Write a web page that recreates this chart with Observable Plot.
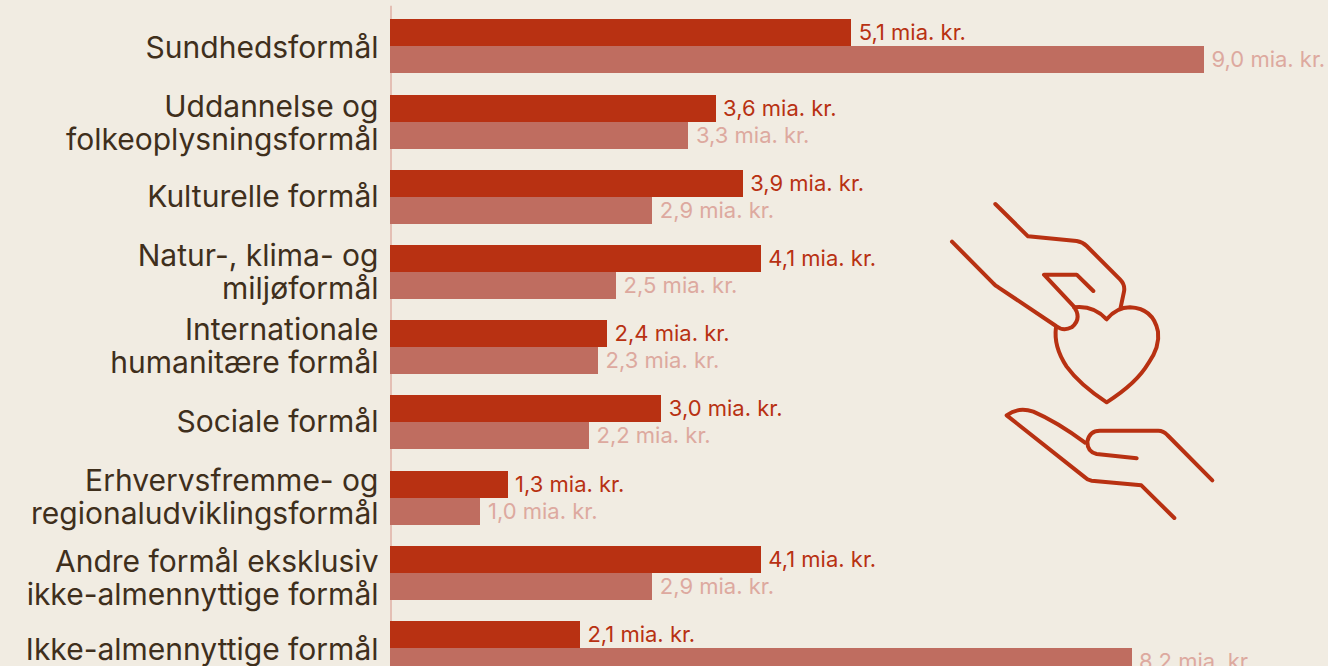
<!DOCTYPE html>
<html lang="da">
<head>
<meta charset="utf-8">
<script src="https://cdn.jsdelivr.net/npm/d3@7"></script>
<script src="https://cdn.jsdelivr.net/npm/@observablehq/plot@0.6"></script>
<style>
html,body{margin:0;padding:0;background:#f1ece2;overflow:hidden}
#wrap{position:relative;width:1328px;height:666px}
#wrap>svg#chartSvg{position:absolute;left:0;top:0}
#wrap>svg#icon{position:absolute;left:930px;top:190px;width:300px;height:340px}
</style>
</head>
<body>
<div id="wrap"></div>
<script>
const categories = [
  "Sundhedsformål",
  "Uddannelse og\nfolkeoplysningsformål",
  "Kulturelle formål",
  "Natur-, klima- og\nmiljøformål",
  "Internationale\nhumanitære formål",
  "Sociale formål",
  "Erhvervsfremme- og\nregionaludviklingsformål",
  "Andre formål eksklusiv\nikke-almennyttige formål",
  "Ikke-almennyttige formål"
];
const seriesA = [5.1, 3.6, 3.9, 4.1, 2.4, 3.0, 1.3, 4.1, 2.1];
const seriesB = [9.0, 3.3, 2.9, 2.5, 2.3, 2.2, 1.0, 2.9, 8.2];
const seriesNames = ["A", "B"];
const barColors = ["#b83112", "#bf6d60"];
const labelColors = ["#b83112", "#dda99f"];
const labelShifts = [0.5, 0.5, -0.5, -1, -2, -1.5, -1.5, 4.5, 1];

const rows = categories.flatMap((category, i) => [
  {category, series: seriesNames[0], value: seriesA[i]},
  {category, series: seriesNames[1], value: seriesB[i]}
]);
const fmt = d => d.value.toFixed(1).replace(".", ",") + " mia. kr.";
const font = "Inter, 'Open Sans', sans-serif";

const chart = Plot.plot({
  width: 1328,
  height: 666,
  marginLeft: 390,
  marginRight: 33.6,
  style: {background: "transparent", fontFamily: font, overflow: "hidden"},
  x: {domain: [0, 10], axis: null},
  fy: {domain: categories, range: [8.8, 685.6], padding: 0, round: false, label: null, axis: null},
  y: {domain: seriesNames, paddingInner: 0, paddingOuter: 0.3926, round: false, axis: null},
  color: {domain: seriesNames, range: barColors},
  marks: [
    Plot.ruleX([0], {stroke: "#e4bfb4", strokeWidth: 2, dx: 0.5, insetTop: -3}),
    Plot.barX(rows, {x: "value", y: "series", fy: "category", fill: "series", shapeRendering: "crispEdges"}),
    Plot.text(rows, {
      x: "value", y: "series", fy: "category", text: fmt,
      textAnchor: "start", dx: 7, fontSize: 22,
      fill: d => labelColors[seriesNames.indexOf(d.series)]
    }),
    ...categories.map((c, i) => Plot.text([c], {
      x: 0, fy: d => d, text: d => d,
      textAnchor: "end", dx: -12, dy: labelShifts[i],
      fontSize: 30, lineHeight: 1.1, fill: "#3f2f1c"
    }))
  ]
});
chart.id = "chartSvg";
const wrap = document.getElementById("wrap");
wrap.appendChild(chart);
wrap.insertAdjacentHTML("beforeend", `
<svg id="icon" viewBox="0 0 900 1020" fill="none" stroke="#b83112" stroke-width="12" stroke-linecap="round" stroke-linejoin="round">
<path d="M196 42 L294 139 L440 153 Q458 156 470 168 L570 268 Q586 284 582 305 L572 352"/>
<path d="M66 155 L190 280 Q196 287 205 292 L378 408 Q400 425 425 412 Q450 392 440 365 L432 350 L342 254 L440 254 L490 303"/>
<path d="M378 412 Q370 470 410 530 Q450 585 530 637 Q620 580 655 520 Q690 470 684 425 Q670 355 600 352 Q560 352 530 388 Q490 345 432 352"/>
<path d="M465 758 Q380 695 310 665 Q265 650 230 676 L465 862 Q472 870 485 872 L634 886 L733 984"/>
<path d="M620 805 L500 792 Q472 785 472 755 Q478 722 510 722 L685 722 Q700 722 712 735 L847 871"/>
</svg>`);
</script>
</body>
</html>
